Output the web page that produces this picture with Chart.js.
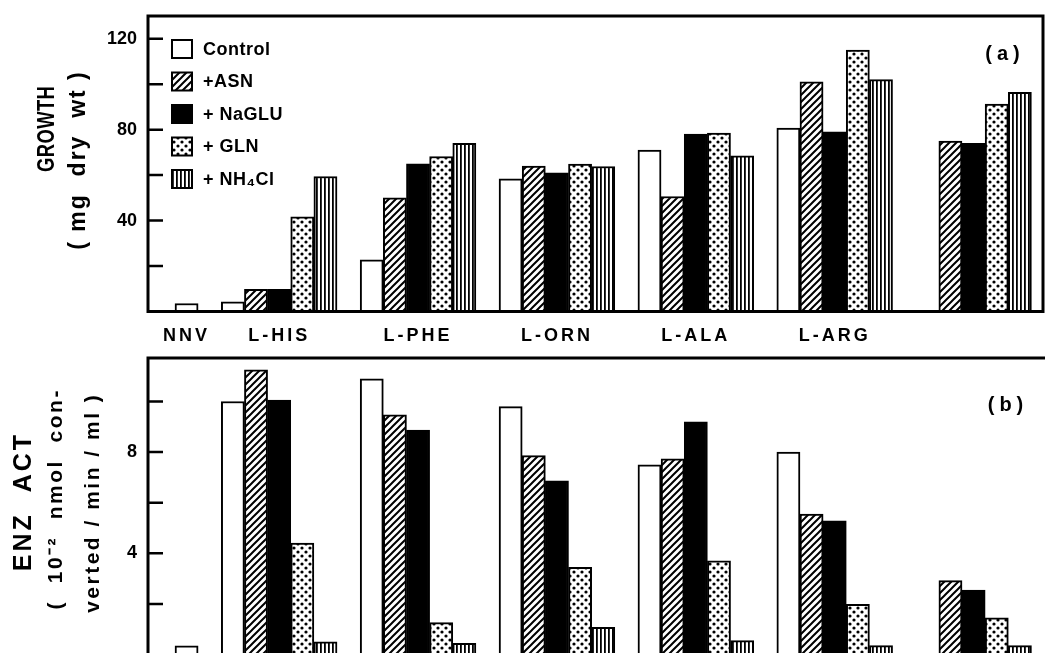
<!DOCTYPE html>
<html>
<head>
<meta charset="utf-8">
<script src="https://cdn.jsdelivr.net/npm/chart.js@4.4.1/dist/chart.umd.min.js"></script>
<style>
  html, body { margin: 0; padding: 0; background: #fff; overflow: hidden; width: 1045px; height: 653px; }
  #growth { position: absolute; left: 0; top: 0; }
  #enzyme { position: absolute; left: 0; top: 350px; }
</style>
</head>
<body>
<canvas id="growth" width="1045" height="352"></canvas>
<canvas id="enzyme" width="1076" height="310"></canvas>
<script>
// Substrates (groups along the x axis) and nitrogen supplements (bar series)
const categories = ['NNV', 'L-HIS', 'L-PHE', 'L-ORN', 'L-ALA', 'L-ARG', ''];
const seriesNames = ['Control', '+ASN', '+ NaGLU', '+ GLN', '+ NH\u2084Cl'];

// (a) growth, mg dry wt
const growthControl = [3.5, 4.3, 22.7, 58.4, 71.0, 80.7, null];
const growthASN     = [null, 9.8, 50.0, 64.0, 50.6, 101.0, 75.0];
const growthNaGLU   = [null, 9.8, 65.0, 61.0, 78.0, 79.0, 74.0];
const growthGLN     = [null, 41.6, 68.2, 64.8, 78.5, 115.0, 91.3];
const growthNH4Cl   = [null, 59.4, 74.0, 63.8, 68.5, 102.0, 96.4];

// (b) enzyme activity, 10^-2 nmol converted / min / ml
const enzControl = [0.34, 10.0, 10.9, 9.8, 7.5, 8.0, null];
const enzASN     = [null, 11.25, 9.47, 7.86, 7.73, 5.55, 2.92];
const enzNaGLU   = [null, 10.06, 8.87, 6.86, 9.2, 5.28, 2.55];
const enzGLN     = [null, 4.4, 1.26, 3.45, 3.7, 1.98, 1.45];
const enzNH4Cl   = [null, 0.5, 0.44, 1.07, 0.55, 0.35, 0.35];

// Tick marks and the subset of them that carry numbers
const growthTicks = [20, 40, 60, 80, 100, 120];
const growthTickLabels = [40, 80, 120];
const enzymeTicks = [2, 4, 6, 8, 10];
const enzymeTickLabels = [4, 8];

// Axis title lines
const growthTitle = ['GROWTH', '( mg  dry  wt )'];
const enzymeTitle = ['ENZ  ACT', '(  10\u207B\u00B2  nmol  con-', 'verted / min / ml )'];

const FONT = "'Liberation Sans', Arial, sans-serif";

// NNV has only its control bar; every other group holds five adjacent bars plus one empty slot
function slotOf(g, s) { return g === 0 ? s : 6 * g - 4 + s; }
function groupCenter(g) { return g === 0 ? 0 : 6 * g - 2; }

// Black-and-white fills
function makePattern(kind) {
  if (kind === 'plain') return '#fff';
  const size = kind === 'vlines' ? 4 : (kind === 'dots' ? 8 : 7);
  const cv = document.createElement('canvas');
  cv.width = size; cv.height = size;
  const c = cv.getContext('2d');
  c.fillStyle = '#fff';
  c.fillRect(0, 0, size, size);
  c.fillStyle = '#000';
  c.strokeStyle = '#000';
  if (kind === 'solid') {
    c.fillRect(0, 0, size, size);
  } else if (kind === 'hatch') {
    c.lineWidth = 2;
    c.beginPath();
    c.moveTo(-1, size + 1); c.lineTo(size + 1, -1);
    c.moveTo(-size / 2 - 1, size / 2 + 1); c.lineTo(size / 2 + 1, -size / 2 - 1);
    c.moveTo(size / 2 - 1, size * 1.5 + 1); c.lineTo(size * 1.5 + 1, size / 2 - 1);
    c.stroke();
  } else if (kind === 'dots') {
    c.beginPath(); c.arc(2, 2, 1.6, 0, Math.PI * 2); c.fill();
    c.beginPath(); c.arc(6, 6, 1.6, 0, Math.PI * 2); c.fill();
  } else if (kind === 'vlines') {
    c.fillRect(0, 0, 1.8, size);
  }
  return c.createPattern(cv, 'repeat');
}
const fills = ['plain', 'hatch', 'solid', 'dots', 'vlines'].map(makePattern);

function buildDatasets(seriesValues) {
  return seriesValues.map((values, s) => ({
    label: seriesNames[s],
    data: categories
      .map((c, g) => values[g] == null ? null : { x: slotOf(g, s), y: values[g] })
      .filter(Boolean),
    backgroundColor: fills[s],
    borderColor: '#000',
    borderWidth: 2,
    borderSkipped: 'start',
    grouped: false,
    categoryPercentage: 1,
    barPercentage: 1
  }));
}

// Frame round the plot area, inward tick marks, panel tag and rotated axis title lines
const framePlugin = {
  id: 'frame',
  afterDatasetsDraw(chart, args, opts) {
    chart.ctx.letterSpacing = opts.labelSpacing || '0px';
  },
  afterDraw(chart, args, opts) {
    const { ctx, chartArea: a } = chart;
    const y = chart.scales.y;
    ctx.save();
    ctx.letterSpacing = '0px';
    ctx.strokeStyle = '#000';
    ctx.lineWidth = 2.5;
    ctx.beginPath();
    y.ticks.forEach(t => {
      const py = y.getPixelForValue(t.value);
      ctx.moveTo(a.left, py);
      ctx.lineTo(a.left + 15, py);
    });
    ctx.stroke();
    ctx.lineWidth = 3;
    ctx.strokeRect(a.left, a.top, a.right - a.left, a.bottom - a.top);
    ctx.fillStyle = '#000';
    ctx.textAlign = 'center';
    ctx.textBaseline = 'middle';
    if (opts.tag) {
      ctx.letterSpacing = '5px';
      ctx.font = 'bold 20px ' + FONT;
      ctx.fillText(opts.tag, opts.tagX, opts.tagY);
    }
    (opts.titles || []).forEach(t => {
      ctx.save();
      ctx.translate(t.x, t.y);
      ctx.rotate(-Math.PI / 2);
      ctx.scale(t.stretch || 1, 1);
      ctx.letterSpacing = t.spacing + 'px';
      ctx.font = 'bold ' + t.size + 'px ' + FONT;
      ctx.fillText(t.text, t.spacing / 2, 0);
      ctx.restore();
    });
    ctx.restore();
  }
};

// Key with patterned swatches, drawn inside the growth panel
const keyPlugin = {
  id: 'key',
  afterDraw(chart, args, opts) {
    if (!opts.show) return;
    const { ctx, chartArea: a } = chart;
    ctx.save();
    ctx.letterSpacing = '0.5px';
    ctx.font = 'bold 18px ' + FONT;
    ctx.textBaseline = 'middle';
    chart.data.datasets.forEach((ds, i) => {
      const bx = a.left + 24, by = a.top + 24 + i * 32.5;
      ctx.fillStyle = ds.backgroundColor;
      ctx.fillRect(bx, by, 20, 18);
      ctx.strokeStyle = '#000';
      ctx.lineWidth = 2;
      ctx.strokeRect(bx, by, 20, 18);
      ctx.fillStyle = '#000';
      ctx.fillText(ds.label, bx + 31, by + 10);
    });
    ctx.restore();
  }
};

function valueAxis(max, ticks, labels) {
  return {
    type: 'linear',
    min: 0,
    max: max,
    grid: { display: false, drawTicks: false },
    border: { display: false },
    afterBuildTicks: s => { s.ticks = ticks.map(v => ({ value: v })); },
    ticks: {
      autoSkip: false,
      padding: 11,
      color: '#000',
      font: { family: FONT, size: 18, weight: 'bold' },
      callback: v => labels.includes(v) ? String(v) : ''
    },
    afterFit: s => { s.width = 148; s.paddingTop = 0; s.paddingBottom = 0; }
  };
}

function categoryAxis(max, show) {
  return {
    type: 'linear',
    display: show,
    min: -1.666,
    max: max,
    offset: false,
    grid: { display: false, drawTicks: false },
    border: { display: false },
    afterBuildTicks: s => { s.ticks = categories.map((c, g) => ({ value: groupCenter(g) })); },
    ticks: {
      autoSkip: false,
      maxRotation: 0,
      minRotation: 0,
      padding: 14,
      z: 1,
      color: '#000',
      font: { family: FONT, size: 18, weight: 'bold' },
      callback: (v, i) => categories[i]
    },
    afterFit: s => {
      s.height = show ? 40.5 : 0;
      s.paddingLeft = 0; s.paddingRight = 0;
    }
  };
}

new Chart(document.getElementById('growth'), {
  type: 'bar',
  data: { datasets: buildDatasets([growthControl, growthASN, growthNaGLU, growthGLN, growthNH4Cl]) },
  options: {
    responsive: false,
    animation: false,
    events: [],
    layout: { padding: { top: 16, right: 2, left: 0, bottom: 0 } },
    scales: {
      x: categoryAxis(37, true),
      y: valueAxis(130, growthTicks, growthTickLabels)
    },
    plugins: {
      legend: { display: false },
      tooltip: { enabled: false },
      frame: {
        tag: '(a)', tagX: 1005, tagY: 54, labelSpacing: '3px',
        titles: [
          { text: growthTitle[0], x: 48, y: 129, size: 23, spacing: 0.5, stretch: 0.8 },
          { text: growthTitle[1], x: 79, y: 161, size: 23, spacing: 2 }
        ]
      },
      key: { show: true }
    }
  },
  plugins: [framePlugin, keyPlugin]
});

new Chart(document.getElementById('enzyme'), {
  type: 'bar',
  data: { datasets: buildDatasets([enzControl, enzASN, enzNaGLU, enzGLN, enzNH4Cl]) },
  options: {
    responsive: false,
    animation: false,
    events: [],
    layout: { padding: { top: 8, right: 9.8, left: 0, bottom: 5.5 } },
    scales: {
      x: categoryAxis(38, false),
      y: valueAxis(11.72, enzymeTicks, enzymeTickLabels)
    },
    plugins: {
      legend: { display: false },
      tooltip: { enabled: false },
      frame: {
        tag: '(b)', tagX: 1008, tagY: 55,
        titles: [
          { text: enzymeTitle[0], x: 24, y: 153, size: 25, spacing: 3 },
          { text: enzymeTitle[1], x: 56, y: 150, size: 21, spacing: 2.5 },
          { text: enzymeTitle[2], x: 93, y: 154, size: 21, spacing: 2.5 }
        ]
      },
      key: { show: false }
    }
  },
  plugins: [framePlugin, keyPlugin]
});
</script>
</body>
</html>
